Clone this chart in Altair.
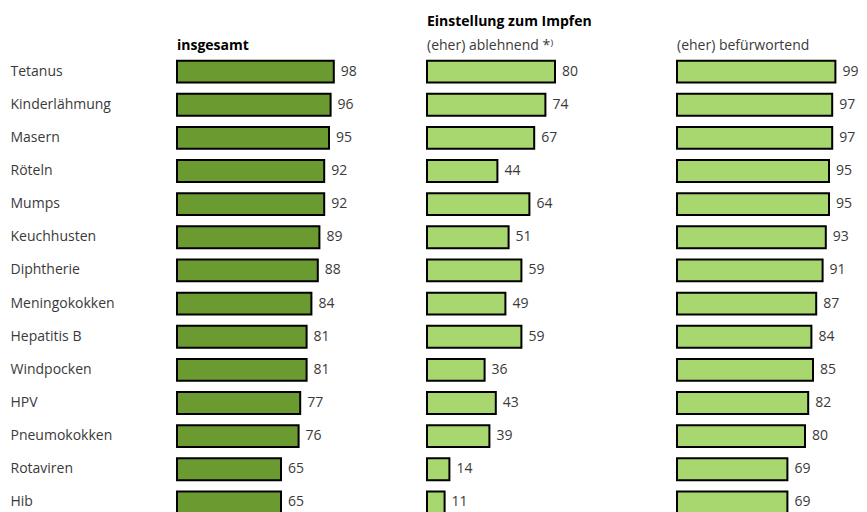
import altair as alt
import pandas as pd

categories = ["Tetanus", "Kinderlähmung", "Masern", "Röteln", "Mumps", "Keuchhusten",
              "Diphtherie", "Meningokokken", "Hepatitis B", "Windpocken", "HPV",
              "Pneumokokken", "Rotaviren", "Hib"]
insgesamt = [98, 96, 95, 92, 92, 89, 88, 84, 81, 81, 77, 76, 65, 65]
ablehnend = [80, 74, 67, 44, 64, 51, 59, 49, 59, 36, 43, 39, 14, 11]
befuerwortend = [99, 97, 97, 95, 95, 93, 91, 87, 84, 85, 82, 80, 69, 69]

FONT = "Open Sans"
DARK = "#6a9a30"
LIGHT = "#a8d66f"
TXT = "#3a3a3a"


def panel(values, color, header, header_bold, supheader=None, show_axis=False):
    df = pd.DataFrame({"cat": categories, "v": values})
    if show_axis:
        yaxis = alt.Axis(title=None, domain=False, ticks=False, grid=False,
                         labelAlign="left", labelPadding=167, labelFontSize=14,
                         labelFont=FONT, labelColor=TXT, labelLimit=200)
    else:
        yaxis = None
    base = alt.Chart(df).encode(
        y=alt.Y("cat:N", sort=categories, axis=yaxis,
                scale=alt.Scale(paddingInner=0.34, paddingOuter=0.17))
    )
    bars = base.mark_bar(color=color, stroke="black", strokeWidth=2).encode(
        x=alt.X("v:Q", scale=alt.Scale(domain=[0, 100]), axis=None)
    )
    labels = base.mark_text(align="left", dx=7, font=FONT, fontSize=14, color=TXT).encode(
        x=alt.X("v:Q", scale=alt.Scale(domain=[0, 100]), axis=None),
        text="v:Q"
    )
    layers = [bars, labels]
    h = alt.Chart(pd.DataFrame({"t": [header]})).mark_text(
        align="left", baseline="alphabetic", font=FONT, fontSize=14,
        fontWeight="bold" if header_bold else "normal", color="black" if header_bold else TXT
    ).encode(x=alt.value(0), y=alt.value(-5), text="t:N")
    layers.append(h)
    if supheader:
        s = alt.Chart(pd.DataFrame({"t": [supheader]})).mark_text(
            align="left", baseline="alphabetic", font=FONT, fontSize=14,
            fontWeight="bold", color="black"
        ).encode(x=alt.value(0), y=alt.value(-29), text="t:N")
        layers.append(s)
    return alt.layer(*layers).properties(width=160, height=464)


p1 = panel(insgesamt, DARK, "insgesamt", True, show_axis=True)
p2 = panel(ablehnend, LIGHT, "(eher) ablehnend *⁾", False, supheader="Einstellung zum Impfen")
p3 = panel(befuerwortend, LIGHT, "(eher) befürwortend", False)

chart = alt.hconcat(p1, p2, p3, spacing=90, bounds="flush").properties(
    padding={"left": 2, "top": 7, "right": 0, "bottom": 0}
).configure_view(stroke=None)

chart.save("out.html", embed_options={"renderer": "svg", "actions": False})
